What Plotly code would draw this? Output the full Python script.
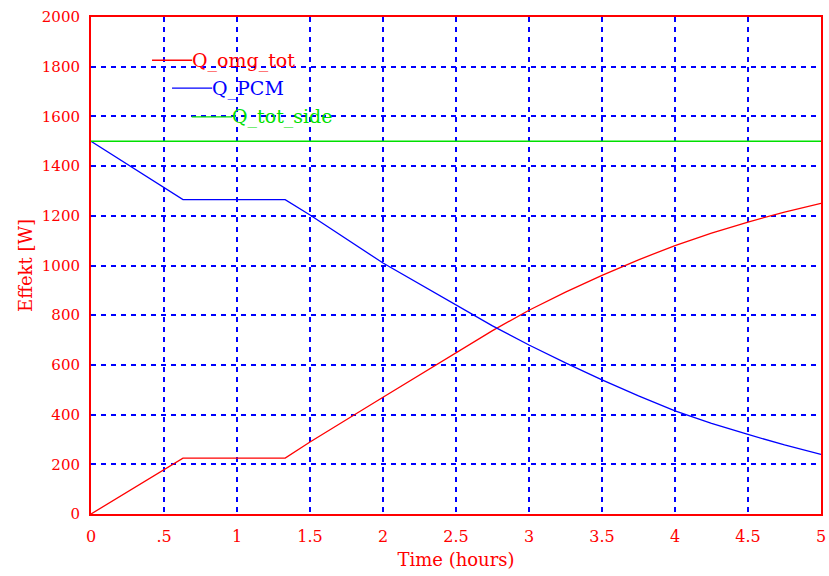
import plotly.graph_objects as go

time_h = [0, 0.63, 1.33, 1.5, 2, 2.25, 2.5, 2.75, 3, 3.25, 3.5, 3.75, 4, 4.25, 4.5, 4.75, 5]
q_omg_tot = [0, 225, 225, 290, 470, 560, 650, 738, 820, 893, 960, 1023, 1080, 1130, 1175, 1215, 1250]
q_pcm = [1500, 1265, 1265, 1203, 1010, 925, 840, 757, 680, 608, 540, 475, 415, 365, 320, 278, 240]
side_t = [0, 5]
q_tot_side = [1500, 1500]

x_ticks = [0, 0.5, 1, 1.5, 2, 2.5, 3, 3.5, 4, 4.5, 5]
x_tick_text = ["0", ".5", "1", "1.5", "2", "2.5", "3", "3.5", "4", "4.5", "5"]
y_ticks = [0, 200, 400, 600, 800, 1000, 1200, 1400, 1600, 1800, 2000]

series = [
    ("Q_omg_tot", time_h, q_omg_tot, "#ff0000"),
    ("Q_PCM", time_h, q_pcm, "#0000ff"),
    ("Q_tot_side", side_t, q_tot_side, "#00e000"),
]

FONT = "DejaVu Serif"
fig = go.Figure()
for name, xs, ys, col in series:
    fig.add_trace(go.Scatter(x=xs, y=ys, mode="lines", name=name, cliponaxis=False,
                             line=dict(color=col, width=1.3), showlegend=False))

# staggered legend in the style of the original
leg_x0 = [0.0836, 0.111, 0.138]
leg_y = [0.913, 0.857, 0.799]
for (name, _, _, col), lx, ly in zip(series, leg_x0, leg_y):
    fig.add_shape(type="line", xref="paper", yref="paper",
                  x0=lx, x1=lx + 0.055, y0=ly, y1=ly,
                  line=dict(color=col, width=1.3))
    fig.add_annotation(xref="paper", yref="paper", x=lx + 0.055, y=ly,
                       text=name, showarrow=False, xanchor="left", yanchor="middle",
                       xshift=-2,
                       font=dict(family=FONT, size=19, color=col))

grid = dict(showgrid=True, gridcolor="#0000ff", griddash="5px,5px", gridwidth=1.5)
fig.update_xaxes(range=[0, 5], tickvals=x_ticks, ticktext=x_tick_text, **grid,
                 showline=True, linecolor="#ff0000", linewidth=2, mirror=True,
                 zeroline=False, ticks="outside", ticklen=7, tickcolor="rgba(0,0,0,0)",
                 automargin=False,
                 tickfont=dict(family=FONT, size=16, color="#ff0000"),
                 title=dict(text="Time (hours)", font=dict(family=FONT, size=18, color="#ff0000"),
                            standoff=8))
fig.update_yaxes(range=[0, 2000], tickvals=y_ticks, **grid,
                 showline=True, linecolor="#ff0000", linewidth=2, mirror=True,
                 zeroline=False, ticks="outside", ticklen=6, tickcolor="rgba(0,0,0,0)",
                 automargin=False,
                 tickfont=dict(family=FONT, size=15, color="#ff0000"),
                 title=dict(text="Effekt [W]", font=dict(family=FONT, size=18, color="#ff0000"),
                            standoff=5))

fig.update_layout(width=829, height=576, plot_bgcolor="white", paper_bgcolor="white",
                  margin=dict(l=91, r=8, t=17, b=62), showlegend=False)

fig.write_html("out.html", config={"displayModeBar": False},
               post_script="document.body.style.margin='0';")
